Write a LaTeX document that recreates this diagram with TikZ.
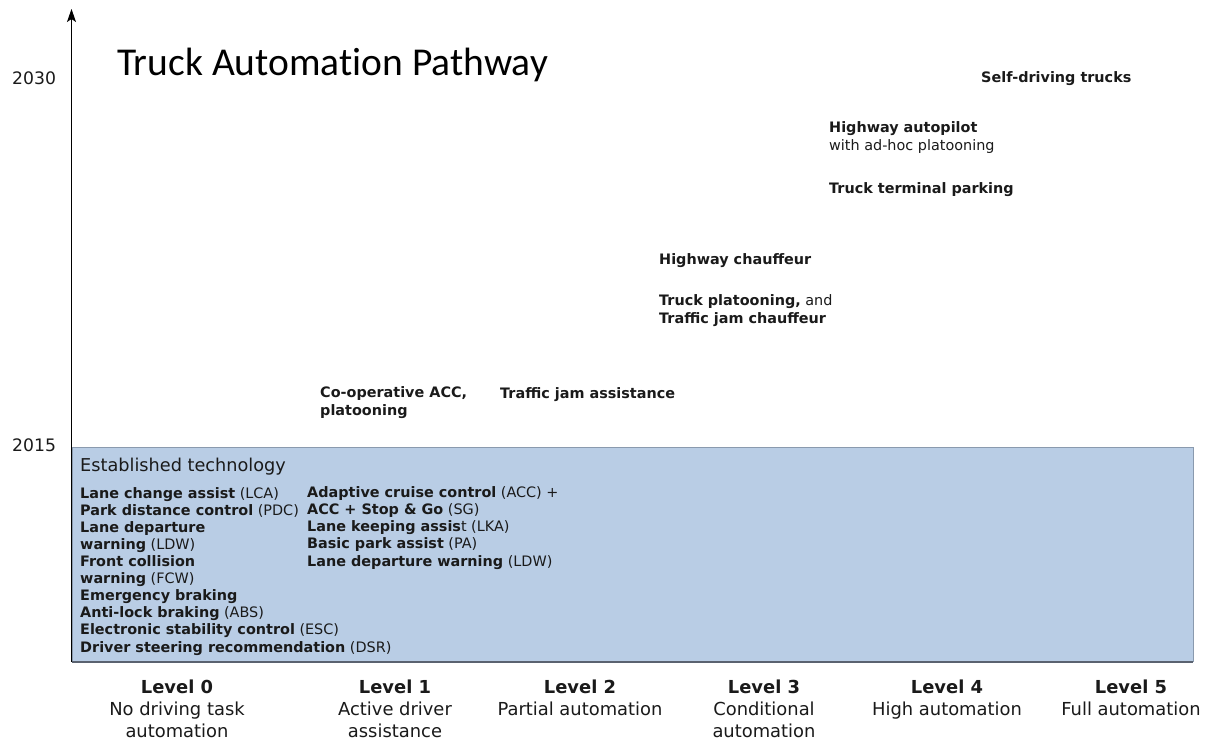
\documentclass[tikz,border=0pt]{standalone}
\usepackage{fontspec}
\usetikzlibrary{arrows.meta}
\setmainfont{DejaVu Sans}
\newfontfamily\titlefont[Ligatures=NoCommon]{Carlito}
\definecolor{boxfill}{HTML}{B9CDE5}
\definecolor{boxline}{HTML}{8A9AAE}
\definecolor{boxbottom}{HTML}{5A6270}
\definecolor{txt}{HTML}{1A1A1A}
\begin{document}
\begin{tikzpicture}[x=1pt,y=-1pt,
  item/.style={anchor=base west,inner sep=0pt,font=\fontsize{14.4}{17.1}\selectfont,text=txt,align=left},
  lvl/.style={anchor=north,inner sep=0pt,font=\fontsize{17.9}{22}\selectfont,text=txt,align=center},
  yr/.style={anchor=base west,inner sep=0pt,font=\fontsize{17.2}{19}\selectfont,text=txt}]
\useasboundingbox (0,0) rectangle (1208,742);
\fill[white] (0,0) rectangle (1208,742);
% established box
\fill[boxfill] (72,447) rectangle (1193,662);
\draw[boxline,line width=0.8pt] (72,662) -- (72,447) -- (1193,447) -- (1193,662);
\draw[boxbottom,line width=1.8pt] (72,662) -- (1193,662);
% axis
\coordinate (ax0) at (71.5,662);
\coordinate (ax1) at (71.5,9);
\draw[line width=1.1pt,-{Stealth[length=13pt,width=9pt,inset=3pt]}] (ax0) -- (ax1);
\node[yr] (y2030) at (12,84) {2030};
\node[yr] (y2015) at (12,451) {2015};
% title
\node[anchor=base west,inner sep=0pt,font=\titlefont\fontsize{39.5}{42}\selectfont] (title) at (117,75) {Truck Automation Pathway};
% future items
\node[item] (sdt) at (981,82) {\textbf{Self-driving trucks}};
\node[item] (hap) at (829,150) {\textbf{Highway autopilot}\\with ad-hoc platooning};
\node[item] (ttp) at (829,193) {\textbf{Truck terminal parking}};
\node[item] (hc) at (659,264) {\textbf{Highway chauffeur}};
\node[item] (tp) at (659,323) {\textbf{Truck platooning,} and\\\textbf{Traffic jam chauffeur}};
\node[item] (cacc) at (320,415) {\textbf{Co-operative ACC,}\\\textbf{platooning}};
\node[item] (tja) at (500,398) {\textbf{Traffic jam assistance}};
% established
\node[anchor=base west,inner sep=0pt,font=\fontsize{17.7}{19}\selectfont,text=txt] (est) at (80,471) {Established technology};
\node[item] (col1) at (80,652) {\textbf{Lane change assist} (LCA)\\
\textbf{Park distance control} (PDC)\\
\textbf{Lane departure}\\
\textbf{warning} (LDW)\\
\textbf{Front collision}\\
\textbf{warning} (FCW)\\
\textbf{Emergency braking}\\
\textbf{Anti-lock braking} (ABS)\\
\textbf{Electronic stability control} (ESC)\\
\textbf{Driver steering recommendation} (DSR)};
\node[item] (col2) at (307,566) {\textbf{Adaptive cruise control} (ACC) +\\
\textbf{ACC + Stop \& Go} (SG)\\
\textbf{Lane keeping assis}t (LKA)\\
\textbf{Basic park assist} (PA)\\
\textbf{Lane departure warning} (LDW)};
% levels
\node[lvl] (l0) at (177,680) {\textbf{Level 0}\\No driving task\\automation};
\node[lvl] (l1) at (395,680) {\textbf{Level 1}\\Active driver\\assistance};
\node[lvl] (l2) at (580,680) {\textbf{Level 2}\\Partial automation};
\node[lvl] (l3) at (764,680) {\textbf{Level 3}\\Conditional\\automation};
\node[lvl] (l4) at (947,680) {\textbf{Level 4}\\High automation};
\node[lvl] (l5) at (1131,680) {\textbf{Level 5}\\Full automation};
\end{tikzpicture}
\end{document}
